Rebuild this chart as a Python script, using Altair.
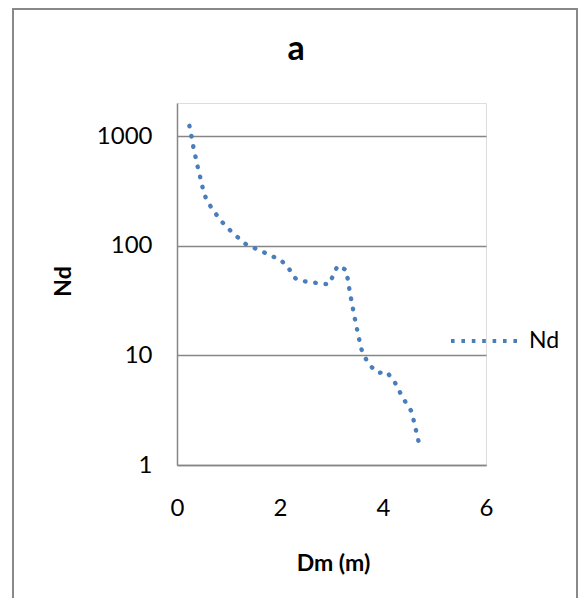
import altair as alt
import pandas as pd

dm = [0.241, 0.286, 0.325, 0.377, 0.402, 0.455, 0.505, 0.564, 0.680, 0.719,
      0.855, 0.882, 1.038, 1.199, 1.361, 1.516, 1.679, 1.841, 1.996, 2.157,
      2.282, 2.321, 2.476, 2.632, 2.799, 2.954, 3.046, 3.118, 3.279, 3.324,
      3.357, 3.401, 3.434, 3.479, 3.526, 3.576, 3.590, 3.687, 3.759, 3.907,
      4.070, 4.212, 4.231, 4.334, 4.387, 4.509, 4.556, 4.606, 4.659, 4.711]
nd = [1239, 963, 760, 594, 524, 413, 326, 268, 217, 205,
      169, 163, 137, 117, 101, 94.5, 87.4, 80, 75.5, 63.4,
      51.4, 49.3, 47.3, 46.3, 45, 44.4, 55.4, 65.6, 60.3, 47.3,
      37.2, 29.2, 23.9, 18.9, 14.8, 11.6, 11.1, 8.87, 7.98, 6.90,
      7.09, 5.83, 5.67, 4.56, 4.08, 3.33, 3.06, 2.43, 1.90, 1.49]
series = ["Nd"] * len(dm)
x_ticks = [0, 2, 4, 6]
y_ticks = [1, 10, 100, 1000]
chart_title = "a"

df = pd.DataFrame({"Dm": dm, "Nd": nd, "series": series})

FONT = "Lato"
GRID = "#868686"
BLUE = "#4A7EBB"

line = alt.Chart(df).mark_line(
    strokeDash=[0.5, 9.9], strokeCap="round", strokeWidth=4.4
).encode(
    x=alt.X("Dm:Q", scale=alt.Scale(domain=[0, 6], nice=False),
            axis=alt.Axis(values=x_ticks, grid=False, ticks=False,
                          domain=True, domainColor=GRID, domainWidth=1.5,
                          labelFlush=False,
                          labelFont=FONT, labelFontSize=24, labelColor="#000000",
                          labelPadding=31, title="Dm (m)", titleFont=FONT,
                          titleFontSize=23, titleFontWeight="bold",
                          titleColor="#000000", titleX=156, titleY=98,
                          titleBaseline="middle", titleAlign="center")),
    y=alt.Y("Nd:Q", scale=alt.Scale(type="log", domain=[1, 2000], nice=False),
            axis=alt.Axis(values=y_ticks, format="d", grid=True, gridColor=GRID,
                          gridWidth=1.5, ticks=False, domain=True,
                          domainColor=GRID, domainWidth=1.5, labelFlush=False,
                          labelFont=FONT, labelFontSize=24, labelColor="#000000",
                          labelPadding=25, title="Nd", titleFont=FONT,
                          titleFontSize=23, titleFontWeight="bold",
                          titleColor="#000000", titleAngle=270,
                          titleX=-114, titleY=178, titleBaseline="middle",
                          titleAlign="center")),
    color=alt.Color("series:N",
                    scale=alt.Scale(domain=["Nd"], range=[BLUE]),
                    legend=alt.Legend(orient="none", legendX=272, legendY=203,
                                      title=None, symbolType="stroke",
                                      symbolSize=4356, symbolStrokeWidth=4,
                                      symbolDash=[3.6, 6.8],
                                      labelFont=FONT, labelFontSize=23,
                                      labelColor="#000000", labelOffset=10,
                                      padding=0)),
)

border = alt.Chart(pd.DataFrame({"k": [0]})).mark_rect(
    fill="white", fillOpacity=0, stroke="#898989", strokeWidth=2
).encode(
    x=alt.value(-164), x2=alt.value(400), y=alt.value(-94), y2=alt.value(530)
)

title = alt.Chart(pd.DataFrame({"t": [chart_title]})).mark_text(
    font=FONT, fontSize=34, fontWeight="bold", color="#000000",
    align="center", baseline="alphabetic"
).encode(text="t:N", x=alt.value(119), y=alt.value(-43))

chart = alt.layer(border, line, title).properties(
    width=309, height=362,
    autosize=alt.AutoSizeParams(type="none"),
    padding={"left": 169, "top": 95, "right": 92, "bottom": 133},
).configure_view(stroke=None).configure(background="white")

chart.save("out.html", embed_options={"renderer": "svg", "actions": False})
